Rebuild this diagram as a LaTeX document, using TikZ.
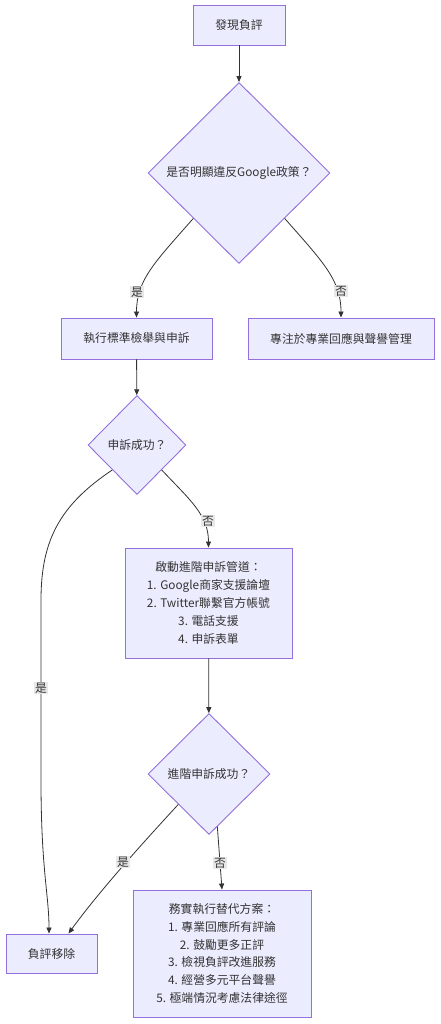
\documentclass[tikz,border=0pt]{standalone}
\usepackage{fontspec}
\setmainfont{Noto Sans CJK TC}
\usetikzlibrary{shapes.geometric,arrows.meta}
\definecolor{nfill}{HTML}{ECECFF}
\definecolor{nline}{HTML}{9370DB}
\definecolor{txt}{HTML}{333333}
\definecolor{edgec}{HTML}{333333}
\definecolor{lblbg}{HTML}{E8E8E8}
\tikzset{
  box/.style={rectangle, draw=nline, fill=nfill, line width=0.9pt, text=txt,
    font={\fontsize{11.8pt}{17.8pt}\selectfont}, align=center, inner sep=0pt},
  dia/.style={diamond, draw=nline, fill=nfill, line width=0.9pt, text=txt,
    font={\fontsize{11.8pt}{17.8pt}\selectfont}, inner sep=0pt, aspect=1},
  arr/.style={draw=edgec, line width=0.8pt, -{Triangle[length=6pt,width=5pt]}},
  lbl/.style={fill=lblbg, text=txt, inner sep=1.2pt,
    font={\fontsize{11.8pt}{14pt}\selectfont}}
}
\begin{document}
\begin{tikzpicture}[x=1pt,y=-1pt]
\fill[white] (0,0) rectangle (440,1024);
\useasboundingbox (0,0) rectangle (440,1024);

% nodes
\node[box, minimum width=92pt, minimum height=40pt] (find) at (239,25) {發現負評};
\node[dia, minimum width=182pt, minimum height=181pt] (d1) at (239,173) {是否明顯違反Google政策？};
\node[box, minimum width=151pt, minimum height=41pt] (std) at (136.5,338.5) {執行標準檢舉與申訴};
\node[box, minimum width=186pt, minimum height=41pt] (foc) at (341,338.5) {專注於專業回應與聲譽管理};
\node[dia, minimum width=98pt, minimum height=99pt] (d2) at (137,445) {申訴成功？};
\node[box, minimum width=167pt, minimum height=110pt] (adv) at (208.5,603) {啟動進階申訴管道：\\1. Google商家支援論壇\\2. Twitter聯繫官方帳號\\3. 電話支援\\4. 申訴表單};
\node[dia, minimum width=122pt, minimum height=121pt] (d3) at (209,774) {進階申訴成功？};
\node[box, minimum width=178pt, minimum height=127pt] (alt) at (222,953.5) {務實執行替代方案：\\1. 專業回應所有評論\\2. 鼓勵更多正評\\3. 檢視負評改進服務\\4. 經營多元平台聲譽\\5. 極端情況考慮法律途徑};
\node[box, minimum width=91pt, minimum height=39pt] (rm) at (51.5,953.5) {負評移除};

% edges
\draw[arr] (find) -- (d1);
\draw[arr] (d1.south west) .. controls (155,262) and (136.5,280) .. (std.north);
\draw[arr] (d1.south east) .. controls (323,262) and (341,280) .. (foc.north);
\draw[arr] (std) -- (d2);
\draw[arr] (d2.south east) .. controls (190,500) and (208.5,515) .. (adv.north);
\draw[arr] (d2.south west) .. controls (60,505) and (41,540) .. (41,600) -- (41,780) .. controls (41,870) and (49,895) .. ([xshift=-2.5pt]rm.north);
\draw[arr] (adv) -- (d3);
\draw[arr] (d3.-81) -- (alt.north);
\draw[arr] (d3.south west) .. controls (150,835) and (100,890) .. ([xshift=17pt]rm.north);

% edge labels
\node[lbl] (l1) at (137,292) {是};
\node[lbl] (l2) at (341,291) {否};
\node[lbl] (l3) at (208,521) {否};
\node[lbl] (l4) at (41,688) {是};
\node[lbl] (l5) at (123,862) {是};
\node[lbl] (l6) at (220,863) {否};
\end{tikzpicture}
\end{document}
